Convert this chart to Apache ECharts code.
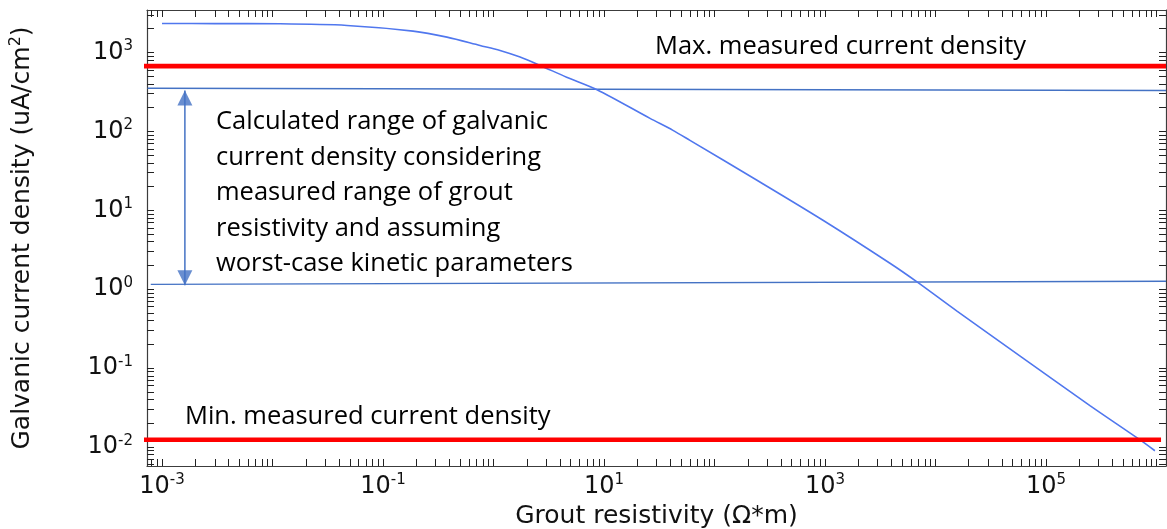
<!DOCTYPE html>
<html>
<head>
<meta charset="utf-8">
<title>Galvanic current density vs grout resistivity</title>
<script src="https://cdn.jsdelivr.net/npm/echarts@6/dist/echarts.min.js"></script>
<style>
  html, body { margin: 0; padding: 0; background: #fff; }
  #chart { width: 1167px; height: 529px; }
</style>
</head>
<body>
<div id="chart"></div>
<script>
// Modelled galvanic current density (uA/cm^2) against grout resistivity (ohm*m)
const resistivity = [0.001, 0.003, 0.0117, 0.0472, 0.187, 0.379, 0.755, 1.146, 1.74, 2.64,
                     4.59, 8.65, 26.1, 42.1, 60.0, 242.5, 959, 3873, 6808, 15660, 61900,
                     250000, 680000, 968000];
const currentDensity = [2328, 2320, 2306, 2198, 1862, 1563, 1227, 1060, 873, 684,
                        486, 337, 146, 103, 76.9, 24.0, 7.47, 2.13, 1.236, 0.527, 0.134,
                        0.0335, 0.01285, 0.00897];

// Calculated range bounds (left end, right end)
const rangeUpper = [352, 330];
const rangeLower = [1.15, 1.26];
const rangeStartX = [7.4e-4, 7.9e-4];

// Measured current density limits
const maxMeasured = 671;
const minMeasured = 0.01236;
const maxLineX = [6.8e-4, 1.22e6];
const minLineX = [6.8e-4, 1.1e6];

// Double arrow marking the calculated range
const arrowX = 1.61e-3;
const arrowTop = 330;
const arrowBottom = 1.12;

// Axis extents and labelled decades
const xMin = 7.31e-4, xMax = 1.22e6;
const yMin = 5.75e-3, yMax = 3450;
const xLabelExponents = [-3, -1, 1, 3, 5];
const yLabelExponents = [-2, -1, 0, 1, 2, 3];

// every 1..9 x 10^n inside [lo, hi]
function decadeTicks(lo, hi) {
  const out = [];
  for (let e = Math.floor(Math.log10(lo)) - 1; e <= Math.ceil(Math.log10(hi)); e++) {
    for (let m = 1; m <= 9; m++) {
      const v = m * Math.pow(10, e);
      if (v >= lo && v <= hi) out.push(v);
    }
  }
  return out;
}
const pow10 = e => Math.pow(10, e);

const axisFont = '"DejaVu Sans", sans-serif';
const noteFont = '25.5px "Open Sans", sans-serif';
const axisColor = '#3c3c3c';
const labelRich = {
  b: { fontFamily: axisFont, fontSize: 24, lineHeight: 27, color: '#111' },
  s: { fontFamily: axisFont, fontSize: 15, lineHeight: 15, color: '#111', verticalAlign: 'top' }
};
const powFormatter = v => '{b|10}{s|' + Math.round(Math.log10(v)) + '}';

function logAxis(extra, lo, hi, ticks) {
  return Object.assign({
    type: 'log',
    logBase: 10,
    min: lo,
    max: hi,
    splitLine: { show: false },
    axisLine: { show: true, onZero: false, lineStyle: { color: axisColor, width: 1.2 } },
    axisTick: { show: true, inside: true, length: 7, customValues: ticks,
                lineStyle: { color: '#222', width: 1 } },
    axisLabel: { show: false },
    minorTick: { show: false }
  }, extra);
}

const xTicks = decadeTicks(xMin, xMax);
const yTicks = decadeTicks(yMin, yMax);

const option = {
  animation: false,
  backgroundColor: '#fff',
  grid: { left: 147, right: 1, top: 10, bottom: 63, containLabel: false, outerBoundsMode: 'none' },
  xAxis: [
    logAxis({
      position: 'bottom',
      name: 'Grout resistivity (Ω*m)',
      nameLocation: 'middle',
      nameGap: 35,
      nameTextStyle: { fontFamily: axisFont, fontSize: 25, lineHeight: 26, color: '#111' },
      axisLabel: { show: true, margin: 7, formatter: powFormatter, rich: labelRich,
                   customValues: xLabelExponents.map(pow10) }
    }, xMin, xMax, xTicks),
    logAxis({ position: 'top' }, xMin, xMax, xTicks)
  ],
  yAxis: [
    logAxis({
      position: 'left',
      name: '{t|Galvanic current density (uA/cm}{s|2}{t|)}',
      nameLocation: 'middle',
      nameGap: 111,
      nameRotate: 90,
      nameTextStyle: {
        rich: {
          t: { fontFamily: axisFont, fontSize: 25, lineHeight: 28, color: '#111' },
          s: { fontFamily: axisFont, fontSize: 16, lineHeight: 16, color: '#111', verticalAlign: 'top' }
        }
      },
      axisLabel: { show: true, margin: 14, formatter: powFormatter, rich: labelRich,
                   customValues: yLabelExponents.map(pow10) }
    }, yMin, yMax, yTicks),
    logAxis({ position: 'right' }, yMin, yMax, yTicks)
  ],
  series: [
    {
      name: 'Galvanic current density',
      type: 'line',
      data: resistivity.map((r, i) => [r, currentDensity[i]]),
      showSymbol: false,
      smooth: 0.3,
      lineStyle: { color: '#5077ee', width: 1.6 },
      z: 3
    },
    {
      name: 'Upper bound',
      type: 'line',
      data: [[rangeStartX[0], rangeUpper[0]], [xMax, rangeUpper[1]]],
      showSymbol: false,
      lineStyle: { color: '#4472c4', width: 1.4 },
      z: 2
    },
    {
      name: 'Lower bound',
      type: 'line',
      data: [[rangeStartX[1], rangeLower[0]], [xMax, rangeLower[1]]],
      showSymbol: false,
      lineStyle: { color: '#4472c4', width: 1.4 },
      z: 2
    },
    {
      name: 'Max. measured',
      type: 'line',
      clip: false,
      data: [[maxLineX[0], maxMeasured], [maxLineX[1], maxMeasured]],
      showSymbol: false,
      lineStyle: { color: '#ff0000', width: 4.6 },
      z: 4
    },
    {
      name: 'Min. measured',
      type: 'line',
      clip: false,
      data: [[minLineX[0], minMeasured], [minLineX[1], minMeasured]],
      showSymbol: false,
      lineStyle: { color: '#ff0000', width: 4.6 },
      z: 4
    },
    {
      name: 'Range arrow',
      type: 'line',
      data: [[arrowX, arrowTop], [arrowX, arrowBottom]],
      showSymbol: false,
      lineStyle: { color: '#4472c4', width: 1.5 },
      z: 5
    },
    {
      name: 'Arrow heads',
      type: 'scatter',
      data: [
        { value: [arrowX, arrowTop], symbolRotate: 0, symbolOffset: [0, '50%'] },
        { value: [arrowX, arrowBottom], symbolRotate: 180, symbolOffset: [0, '-50%'] }
      ],
      symbol: 'triangle',
      symbolSize: [15, 15],
      itemStyle: { color: '#4472c4' },
      z: 6
    }
  ],
  graphic: [
    {
      type: 'text', x: 655, y: 47, z: 10,
      style: { text: 'Max. measured current density', fill: '#000',
               font: noteFont, verticalAlign: 'middle', align: 'left' }
    },
    {
      type: 'text', x: 185, y: 417, z: 10,
      style: { text: 'Min. measured current density', fill: '#000',
               font: noteFont, verticalAlign: 'middle', align: 'left' }
    },
    {
      type: 'text', x: 216, y: 104, z: 10,
      style: {
        text: 'Calculated range of galvanic\ncurrent density considering\nmeasured range of grout\nresistivity and assuming\nworst-case kinetic parameters',
        fill: '#000', font: noteFont, lineHeight: 35.6, verticalAlign: 'top', align: 'left'
      }
    }
  ]
};

const chart = echarts.init(document.getElementById('chart'), null, { renderer: 'canvas' });
chart.setOption(option);
</script>
</body>
</html>
